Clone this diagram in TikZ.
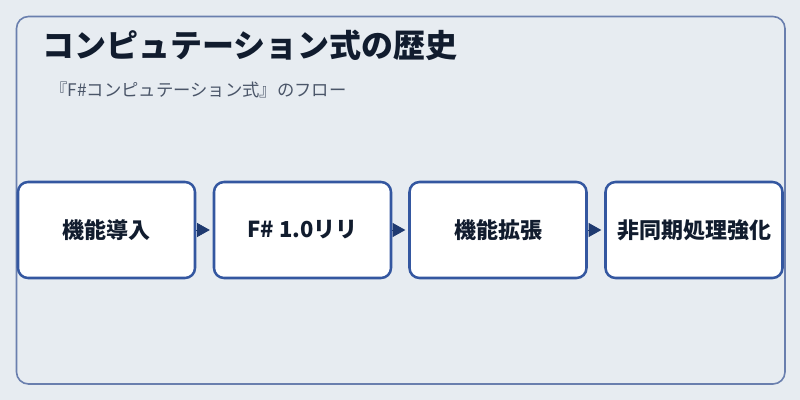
\documentclass[tikz,border=0pt]{standalone}
\usepackage{fontspec}
\setmainfont{Noto Sans CJK JP}
\usetikzlibrary{arrows.meta}
\definecolor{pagebg}{HTML}{E7ECF1}
\definecolor{framec}{HTML}{6A7FAE}
\definecolor{boxc}{HTML}{3457A0}
\definecolor{arrowc}{HTML}{1F3A70}
\definecolor{titlec}{HTML}{111C2E}
\definecolor{subc}{HTML}{4A5568}
\begin{document}
\begin{tikzpicture}[x=0.75pt, y=-0.75pt,
  step box/.style={rectangle, rounded corners=7.5pt, draw=boxc, line width=1.9pt, fill=white,
    minimum width=132.75pt, minimum height=72pt, inner sep=0pt, text=titlec,
    font=\fontsize{16.5pt}{19pt}\selectfont\bfseries}]
\useasboundingbox (0,0) rectangle (800,400);
\fill[pagebg] (0,0) rectangle (800,400);
\draw[framec, line width=1.2pt, rounded corners=9pt] (16.5,16.5) rectangle (785,384);%fill=pagebg
\node[anchor=base west, inner sep=0pt, text=titlec, font=\fontsize{24pt}{28pt}\selectfont\bfseries] (title) at (42,57) {コンピュテーション式の歴史};
\node[anchor=base west, inner sep=0pt, text=subc, font=\fontsize{13pt}{16pt}\selectfont] (sub) at (50,96) {『F\#コンピュテーション式』のフロー};
\begin{scope}
\node[step box] (b1) at (106.5,230) {機能導入};
\node[step box] (b2) at (302.5,230) {F\# 1.0リリ};
\node[step box] (b3) at (498,230) {機能拡張};
\node[step box] (b4) at (694,230) {非同期処理強化};
%\node[step box] (b) at (,) {};
\end{scope}
\begin{scope}[every edge/.style={draw=arrowc, line width=0.6pt}]
\draw[-{Triangle[length=9.5pt,width=10.5pt]}, shorten >=2.2pt, arrowc] (b1) edge (b2);
\draw[-{Triangle[length=9.5pt,width=10.5pt]}, shorten >=2.2pt, arrowc] (b2) edge (b3);
\draw[-{Triangle[length=9.5pt,width=10.5pt]}, shorten >=2.2pt, arrowc] (b3) edge (b4);
%\draw[->] (b) edge (b);
\end{scope}
\end{tikzpicture}
\end{document}
